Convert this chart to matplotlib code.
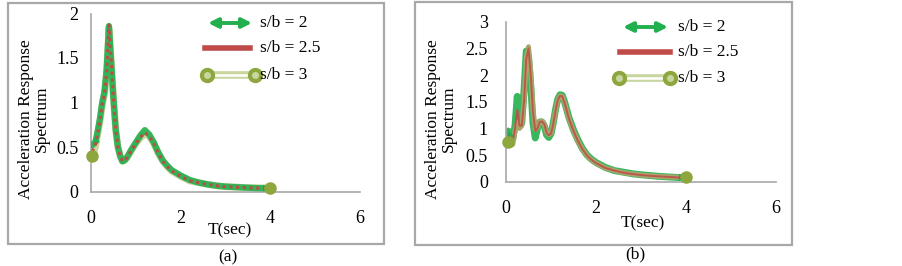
import matplotlib
matplotlib.use("Agg")
import matplotlib.pyplot as plt
from matplotlib.lines import Line2D
from matplotlib.patches import Rectangle

plt.rcParams['font.family'] = ['Liberation Serif', 'DejaVu Serif']

# ---------------- data ----------------
series_labels = ["s/b = 2", "s/b = 2.5", "s/b = 3"]
x_ticks = [0, 2, 4, 6]
y_ticks_a = [0, 0.5, 1, 1.5, 2]
y_ticks_b = [0, 0.5, 1, 1.5, 2, 2.5, 3]

T_a = [0.03, 0.1, 0.15, 0.2, 0.25, 0.3, 0.35, 0.4, 0.45, 0.5, 0.55, 0.6, 0.65,
       0.7, 0.75, 0.8, 0.9, 1.0, 1.1, 1.2, 1.3, 1.4, 1.5, 1.6, 1.7, 1.8, 2.0,
       2.2, 2.4, 2.6, 2.8, 3.0, 3.2, 3.4, 3.6, 3.8, 4.0]
a_sb2 = [0.52, 0.56, 0.68, 0.82, 1.00, 1.12, 1.38, 1.86, 1.45, 1.05, 0.70, 0.50, 0.40,
         0.34, 0.35, 0.38, 0.47, 0.55, 0.63, 0.69, 0.64, 0.55, 0.44, 0.35, 0.29, 0.24, 0.18,
         0.13, 0.10, 0.08, 0.065, 0.055, 0.05, 0.045, 0.04, 0.037, 0.035]
a_sb25 = [0.45, 0.53, 0.66, 0.80, 0.98, 1.10, 1.36, 1.87, 1.47, 1.06, 0.70, 0.50, 0.40,
          0.34, 0.35, 0.38, 0.46, 0.54, 0.61, 0.66, 0.62, 0.54, 0.43, 0.34, 0.28, 0.23, 0.17,
          0.12, 0.10, 0.08, 0.064, 0.054, 0.05, 0.045, 0.04, 0.037, 0.035]
a_sb3 = [0.40, 0.50, 0.65, 0.79, 0.97, 1.09, 1.34, 1.83, 1.46, 1.06, 0.70, 0.50, 0.40,
         0.34, 0.35, 0.38, 0.46, 0.54, 0.60, 0.65, 0.62, 0.54, 0.43, 0.34, 0.28, 0.23, 0.17,
         0.12, 0.10, 0.08, 0.064, 0.054, 0.05, 0.045, 0.042, 0.04, 0.04]

T_b = [0.05, 0.1, 0.15, 0.2, 0.25, 0.3, 0.35, 0.4, 0.45, 0.5, 0.55, 0.6, 0.65, 0.7,
       0.75, 0.8, 0.85, 0.9, 0.95, 1.0, 1.05, 1.1, 1.15, 1.2, 1.25, 1.3, 1.35, 1.4,
       1.5, 1.6, 1.7, 1.8, 1.9, 2.0, 2.2, 2.4, 2.6, 2.8, 3.0, 3.2, 3.4, 3.6, 3.8, 4.0]
b_sb2 = [0.95, 0.85, 0.80, 1.05, 1.60, 1.05, 1.10, 1.70, 2.45, 2.35, 1.80, 1.10, 0.82, 1.00,
         1.12, 1.12, 1.05, 0.88, 0.83, 0.90, 1.10, 1.35, 1.55, 1.63, 1.62, 1.50, 1.35, 1.20,
         0.97, 0.78, 0.62, 0.50, 0.42, 0.36, 0.27, 0.21, 0.18, 0.15, 0.13, 0.115, 0.10, 0.09, 0.08, 0.075]
b_sb25 = [0.85, 0.75, 0.75, 1.00, 1.35, 1.05, 1.05, 1.50, 2.30, 2.50, 2.00, 1.30, 0.95, 1.00,
          1.12, 1.13, 1.08, 0.92, 0.87, 0.90, 1.08, 1.33, 1.53, 1.61, 1.60, 1.48, 1.33, 1.18,
          0.95, 0.76, 0.61, 0.49, 0.41, 0.35, 0.26, 0.21, 0.17, 0.145, 0.125, 0.11, 0.10, 0.09, 0.08, 0.075]
b_sb3 = [0.75, 0.68, 0.70, 0.95, 1.12, 1.00, 1.05, 1.50, 2.30, 2.53, 2.05, 1.35, 0.98, 1.02,
         1.13, 1.14, 1.08, 0.93, 0.88, 0.91, 1.08, 1.33, 1.53, 1.61, 1.60, 1.48, 1.33, 1.18,
         0.95, 0.76, 0.61, 0.49, 0.41, 0.35, 0.26, 0.21, 0.17, 0.145, 0.125, 0.11, 0.10, 0.09, 0.085, 0.08]

# ---------------- style ----------------
GREEN = '#22b04e'
RED = '#bf4b48'
OLIVE = '#8ea63e'
OLIVE_LIGHT = '#c8d6a0'
GRAY = '#a8a8a8'
FS = 12.5
FS_TICK = 13

W, H = 903, 266
fig = plt.figure(figsize=(W / 100, H / 100), dpi=100)


def fx(px):
    return px / W


def fy(py):
    return 1 - py / H


def make_axes(x0, x6, y0, ytop):
    return fig.add_axes([fx(x0), fy(y0), fx(x6) - fx(x0), fy(ytop) - fy(y0)])


ax_a = make_axes(91, 360, 191.5, 13.5)
ax_b = make_axes(506, 776, 181.7, 21.7)


def style_axes(ax, ymax, yticks, ypad, xpad):
    ax.set_xlim(0, 6)
    ax.set_ylim(0, ymax)
    ax.set_xticks(x_ticks)
    ax.set_yticks(yticks)
    ax.set_xticklabels([f"{v:g}" for v in x_ticks])
    ax.set_yticklabels([f"{v:g}" for v in yticks])
    for s in ['top', 'right']:
        ax.spines[s].set_visible(False)
    for s in ['left', 'bottom']:
        ax.spines[s].set_color(GRAY)
        ax.spines[s].set_linewidth(1.2)
    ax.tick_params(axis='both', length=0, labelsize=FS_TICK)
    ax.tick_params(axis='y', pad=ypad)
    ax.tick_params(axis='x', pad=xpad)
    ax.patch.set_alpha(0)


def end_arrows(ax, T, v, color):
    ax.annotate('', xy=(T[-1], v[-1]), xytext=(T[-3], v[-3]),
                arrowprops=dict(arrowstyle='-|>', color=color, lw=0, mutation_scale=13,
                                shrinkA=0, shrinkB=0), annotation_clip=False)
    ax.annotate('', xy=(T[0], v[0]), xytext=(T[1], v[1]),
                arrowprops=dict(arrowstyle='-|>', color=color, lw=0, mutation_scale=13,
                                shrinkA=0, shrinkB=0), annotation_clip=False)


def olive_ends(ax, T, v):
    ax.plot([T[0], T[-1]], [v[0], v[-1]], 'o', color=OLIVE, ms=8, mec=OLIVE, zorder=5,
            clip_on=False)


# panel (a)
style_axes(ax_a, 2, y_ticks_a, 9, 13)
ax_a.plot(T_a, a_sb3, color=OLIVE_LIGHT, lw=5, solid_capstyle='round', zorder=2)
ax_a.plot(T_a, a_sb2, color=GREEN, lw=4.5, solid_capstyle='round', zorder=3, alpha=0.9)
ax_a.plot(T_a, a_sb25, color=RED, lw=2.2, linestyle=(0, (1, 1.2)), zorder=4)
end_arrows(ax_a, T_a, a_sb2, GREEN)
olive_ends(ax_a, T_a, a_sb3)

# panel (b)
style_axes(ax_b, 3, y_ticks_b, 13, 13)
ax_b.plot(T_b, b_sb2, color=GREEN, lw=5, solid_capstyle='round', zorder=2, alpha=0.9)
ax_b.plot(T_b, b_sb3, color='#a9a56a', lw=3.6, solid_capstyle='round', zorder=3)
ax_b.plot(T_b, b_sb25, color=RED, lw=1.4, zorder=4, alpha=0.85)
end_arrows(ax_b, T_b, b_sb2, GREEN)
olive_ends(ax_b, T_b, b_sb3)

# frames
for (x0, y0, x1, y1) in [(8, 3, 384, 244), (415, 2, 792, 245)]:
    fig.patches.append(Rectangle((fx(x0), fy(y1)), fx(x1) - fx(x0), fy(y0) - fy(y1),
                                 transform=fig.transFigure, fill=False,
                                 edgecolor=GRAY, lw=1.6, zorder=0))


# legends (drawn manually, Excel-like)
def legend(xg0, xg1, yg, xr0, xr1, yr, xo0, xo1, yo, xt):
    fig.add_artist(Line2D([fx(xr0), fx(xr1)], [fy(yr), fy(yr)], color=RED, lw=4,
                          transform=fig.transFigure))
    fig.add_artist(Line2D([fx(xo0), fx(xo1)], [fy(yo), fy(yo)], color=OLIVE_LIGHT, lw=5.5,
                          transform=fig.transFigure))
    fig.add_artist(Line2D([fx(xo0), fx(xo1)], [fy(yo), fy(yo)], color='white', lw=1.8,
                          transform=fig.transFigure))
    fig.add_artist(Line2D([fx(xo0), fx(xo1)], [fy(yo), fy(yo)], lw=0, marker='o', ms=10,
                          color=OLIVE, transform=fig.transFigure))
    fig.add_artist(Line2D([fx(xo0), fx(xo1)], [fy(yo), fy(yo)], lw=0, marker='o', ms=4,
                          color=OLIVE_LIGHT, transform=fig.transFigure))
    fig.add_artist(plt.Annotation('', xy=(fx(xg1), fy(yg)), xytext=(fx(xg0), fy(yg)),
                                  xycoords='figure fraction',
                                  arrowprops=dict(arrowstyle='<|-|>', color=GREEN, lw=2.8,
                                                  mutation_scale=14, shrinkA=0, shrinkB=0)))
    for lab, yy in zip(series_labels, [yg, yr, yo]):
        fig.text(fx(xt), fy(yy), lab, fontsize=FS, ha='left', va='center')


legend(208, 252, 23, 205, 250, 48, 207, 255, 75, 260)
legend(623, 668, 27, 620, 670, 52, 619, 670, 78, 678)

# axis titles
ylabel = "Acceleration Response\nSpectrum"
fig.text(fx(34), fy(119), ylabel, rotation=90, ha='center', va='center', fontsize=FS,
         linespacing=1.0, multialignment='center')
fig.text(fx(441), fy(119), ylabel, rotation=90, ha='center', va='center', fontsize=FS,
         linespacing=1.0, multialignment='center')
fig.text(fx(230), fy(230), "T(sec)", ha='center', va='center', fontsize=FS)
fig.text(fx(643), fy(223), "T(sec)", ha='center', va='center', fontsize=FS)
fig.text(fx(228), fy(257), "(a)", ha='center', va='center', fontsize=FS)
fig.text(fx(635), fy(254), "(b)", ha='center', va='center', fontsize=FS)

fig.savefig("out.png", dpi=100)
